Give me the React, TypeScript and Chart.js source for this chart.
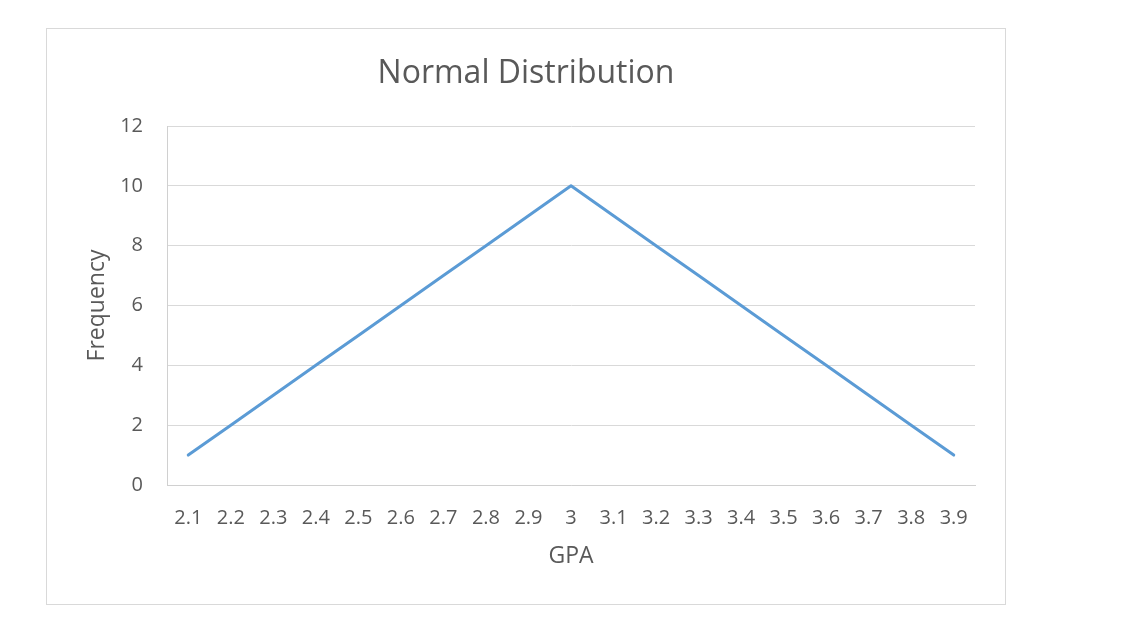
import React, { useEffect, useRef } from "react";
import { Chart, registerables } from "chart.js";

Chart.register(...registerables);

const gpaLabels = ["2.1", "2.2", "2.3", "2.4", "2.5", "2.6", "2.7", "2.8", "2.9", "3", "3.1", "3.2", "3.3", "3.4", "3.5", "3.6", "3.7", "3.8", "3.9"];
const frequencyValues = [1, 2, 3, 4, 5, 6, 7, 8, 9, 10, 9, 8, 7, 6, 5, 4, 3, 2, 1];
const yTicks = [0, 2, 4, 6, 8, 10, 12];

const FONT = "'Open Sans', 'Noto Sans', sans-serif";
const TEXT = "#595959";
const GRID = "#d9d9d9";

export default function App() {
  const ref = useRef<HTMLCanvasElement | null>(null);
  useEffect(() => {
    if (!ref.current) return;
    const chart = new Chart(ref.current, {
      type: "line",
      data: {
        labels: gpaLabels,
        datasets: [
          {
            label: "Frequency",
            data: frequencyValues,
            borderColor: "#5b9bd5",
            backgroundColor: "#5b9bd5",
            borderWidth: 3,
            pointRadius: 0,
            tension: 0,
            borderCapStyle: "round",
            borderJoinStyle: "round",
          },
        ],
      },
      options: {
        responsive: false,
        animation: false,
        layout: { padding: { left: 30, right: 30, top: 0, bottom: 0 } },
        plugins: {
          legend: { display: false },
          tooltip: { enabled: false },
          title: {
            display: true,
            text: "Normal Distribution",
            color: TEXT,
            font: { family: FONT, size: 32, weight: "normal", lineHeight: 1.2 },
            padding: { top: 25.5, bottom: 33.1 },
          },
        },
        scales: {
          x: {
            type: "category",
            offset: true,
            grid: { display: false, drawTicks: false },
            border: { display: true, color: "#d0d0d0", width: 1 },
            ticks: {
              color: TEXT,
              font: { family: FONT, size: 20 },
              padding: 21,
              maxRotation: 0,
              autoSkip: false,
            },
            title: {
              display: true,
              text: "GPA",
              color: TEXT,
              font: { family: FONT, size: 23, lineHeight: 1.2 },
              padding: { top: 0, bottom: 33.5 },
            },
            afterFit: (s: any) => {
              s.height = 119;
            },
          },
          y: {
            min: 0,
            max: 12,
            afterBuildTicks: (s: any) => {
              s.ticks = yTicks.map((v) => ({ value: v }));
            },
            grid: { color: GRID, lineWidth: 1, drawTicks: false },
            border: { display: true, color: "#d0d0d0", width: 1 },
            ticks: {
              color: TEXT,
              font: { family: FONT, size: 20 },
              padding: 24,
            },
            title: {
              display: true,
              text: "Frequency",
              color: TEXT,
              font: { family: FONT, size: 23, lineHeight: 1.2 },
              padding: { top: 7, bottom: 0 },
            },
            afterFit: (s: any) => {
              s.width = 90;
            },
          },
        },
      },
    });
    return () => chart.destroy();
  }, []);
  return (
    <div
      style={{
        position: "absolute",
        left: 46,
        top: 28,
        width: 960,
        height: 577,
        boxSizing: "border-box",
        border: "1px solid #d9d9d9",
        background: "#fff",
      }}
    >
      <canvas ref={ref} width={958} height={575} style={{ display: "block", width: 958, height: 575 }} />
    </div>
  );
}
